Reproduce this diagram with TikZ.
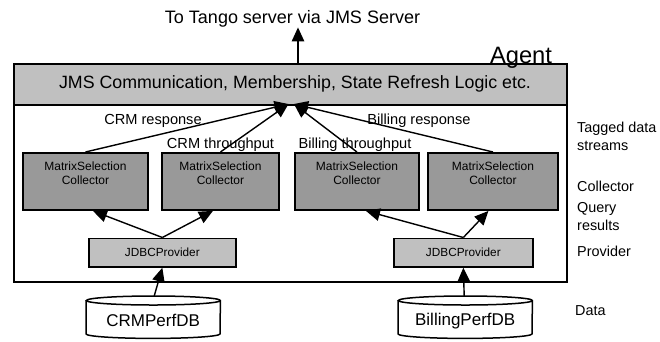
\documentclass[tikz,border=0pt]{standalone}
\usepackage{fontspec}
\setmainfont{Liberation Sans}
\usetikzlibrary{arrows.meta,calc}
\definecolor{barfill}{RGB}{192,192,192}
\definecolor{collfill}{RGB}{153,153,153}
\tikzset{
  arr/.style={line width=1.4pt,-{Triangle[length=14pt,width=12.5pt]}},
  frame/.style={draw,line width=1.7pt,inner sep=0pt,anchor=north west},
  collbox/.style={frame,fill=collfill,line width=1.9pt,minimum height=57pt},
  provbox/.style={frame,fill=barfill,minimum height=28.5pt},
  dbarea/.style={inner sep=0pt,anchor=north west,minimum height=42pt},
  dbline/.style={line width=1.5pt},
  colltext/.style={align=center,inner sep=0pt,font=\fontsize{12}{13.6}\selectfont},
  provtext/.style={inner sep=0pt,font=\fontsize{11.8}{13}\selectfont},
  dbtext/.style={inner sep=0pt,font=\fontsize{17}{20}\selectfont},
  streamtext/.style={inner sep=0pt,anchor=base,font=\fontsize{14.6}{17}\selectfont},
  sidetext/.style={inner sep=0pt,anchor=base west,font=\fontsize{14.4}{17}\selectfont},
}
\begin{document}
\begin{tikzpicture}[x=1pt,y=-1pt]
\useasboundingbox (0,0) rectangle (660,341);

% title and the outgoing link
\node[inner sep=0pt,anchor=base,font=\fontsize{18}{21}\selectfont] (title) at (292.5,23.5) {To Tango server via JMS Server};

% agent frame and its communication layer
\node[frame,minimum width=553pt,minimum height=218pt] (agent) at (13,63) {};
\node[frame,fill=barfill,minimum width=553pt,minimum height=41pt] (jms) at (13,63) {};
\node[inner sep=0pt,font=\fontsize{17.8}{21}\selectfont] (jmst) at (295,83.5) {JMS Communication, Membership, State Refresh Logic etc.};
\node[inner sep=0pt,anchor=base,font=\fontsize{23.7}{27}\selectfont] (agentlbl) at (521,63) {Agent};

\coordinate (tgt) at ($(title.south)+(5.5,0)$);
\draw[arr] (tgt |- jms.north) -- (tgt);

% collectors
\node[collbox,minimum width=125pt] (c1) at (22,152) {};
\node[collbox,minimum width=117pt] (c2) at (161,152) {};
\node[collbox,minimum width=124pt] (c3) at (294,152) {};
\node[collbox,minimum width=130pt] (c4) at (427,152) {};
\foreach \c in {c1,c2,c3,c4}
  \node[colltext] (\c t) at ([yshift=-21pt]\c.north) {MatrixSelection\\Collector};

% providers
\node[provbox,minimum width=147pt] (j1) at (88,237.5) {};
\node[provbox,minimum width=139pt] (j2) at (393,237.5) {};
\node[provtext] (j1t) at (j1.center) {JDBCProvider};
\node[provtext] (j2t) at (j2.center) {JDBCProvider};

% databases (drawn as cylinders round their nodes)
\node[dbarea,minimum width=134pt] (db1) at (86,296) {};
\node[dbarea,minimum width=134pt] (db2) at (398,296) {};
\foreach \d in {db1,db2}{
  \draw[dbline,fill=white] ([yshift=-4.5pt]\d.north west) -- ([yshift=4.5pt]\d.south west)
      arc[start angle=180,end angle=360,x radius=67pt,y radius=4.5pt]
      -- ([yshift=-4.5pt]\d.north east)
      arc[start angle=0,end angle=180,x radius=67pt,y radius=4.5pt]
      arc[start angle=180,end angle=360,x radius=67pt,y radius=4.5pt];
}
\node[dbtext] (db1t) at ([yshift=-3.5pt]db1.center) {CRMPerfDB};
\node[dbtext] (db2t) at ([yshift=-3.5pt]db2.center) {BillingPerfDB};

% data flow
\draw[arr] ($(db1.north)+(1,0)$) -- (j1.south);
\draw[arr] ($(db2.north)+(-1,0)$) -- (j2.south);
\draw[arr] (j1.north) -- ($(c1.south)+(7.5,0)$);
\draw[arr] (j1.north) -- ($(c2.south)+(-7.5,0)$);
\draw[arr] (j2.north) -- ($(c3.south)+(9,0)$);
\draw[arr] (j2.north) -- ($(c4.south)+(-4.5,0)$);

\coordinate (hubL) at (288.5,104);
\coordinate (hubR) at (294,104);
\draw[arr] (c1.north) -- (hubL);
\draw[arr] (c2.north) -- (hubL);
\draw[arr] (c3.north) -- (hubR);
\draw[arr] (c4.north) -- (hubR);

% stream tags
\node[streamtext] (s1) at (153,124) {CRM response};
\node[streamtext] (s2) at (220.5,148) {CRM throughput};
\node[streamtext] (s3) at (355,148) {Billing throughput};
\node[streamtext] (s4) at (419,124) {Billing response};

% layer legend
\node[sidetext] (l1) at (577,132) {Tagged data};
\node[sidetext] (l2) at (577,150.5) {streams};
\node[sidetext] (l3) at (577,191.5) {Collector};
\node[sidetext] (l4) at (577,212.5) {Query};
\node[sidetext] (l5) at (577,230) {results};
\node[sidetext] (l6) at (577,256) {Provider};
\node[sidetext] (l7) at (575,315) {Data};
\end{tikzpicture}
\end{document}
